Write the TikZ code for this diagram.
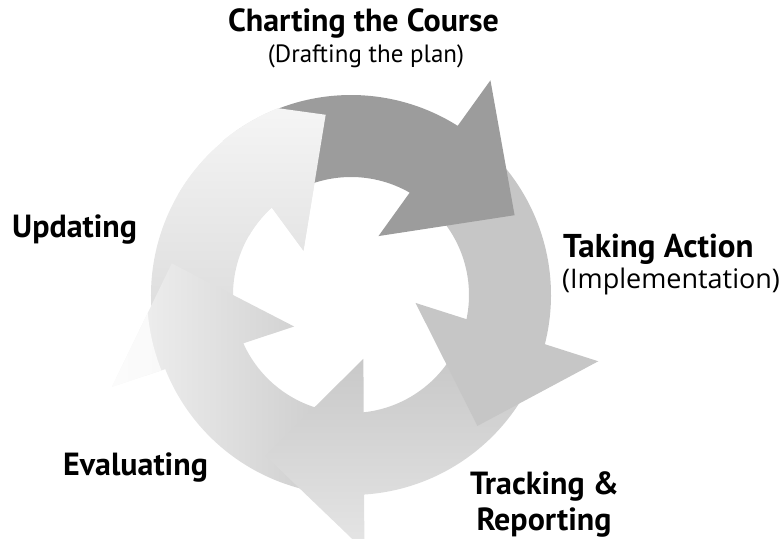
\documentclass[tikz,border=0pt]{standalone}
\usepackage{fontspec}
\newfontfamily\labfont{PT Sans}
\newfontfamily\impfont{Open Sans}
\definecolor{aone}{gray}{0.61}
\definecolor{atwo}{gray}{0.775}
\definecolor{athreeA}{gray}{0.77}
\definecolor{athreeB}{gray}{0.73}
\definecolor{athreeC}{gray}{0.90}
\definecolor{afourA}{gray}{0.79}
\definecolor{afourB}{gray}{0.95}
\definecolor{afiveA}{gray}{0.85}
\definecolor{afiveB}{gray}{0.965}
\begin{document}
\begin{tikzpicture}[x=1pt,y=1pt,
  headlbl/.style={inner sep=0pt, font=\labfont\bfseries\fontsize{32}{36}\selectfont},
  sublbl/.style={inner sep=0pt, font=\labfont\fontsize{25}{28}\selectfont},
  implbl/.style={inner sep=0pt, font=\impfont\fontsize{27}{31}\selectfont}]
\useasboundingbox (-351,-243) rectangle (432,295);
\clip (-351,-243) rectangle (432,295);
\def\arr#1{({#1+125}:200) arc[start angle={#1+125}, end angle={#1+57.76}, radius=200]
  -- ({#1+57}:256) -- ({#1+26}:182) -- ({#1+65}:65) -- ({#1+60.17}:118)
  arc[start angle={#1+60.17}, end angle={#1+125}, radius=118] -- cycle}
% arrow 5 (Updating): fades out beyond the ring
\begin{scope}
  \clip (0,0) circle[radius=200.5];
  \shade[top color=afiveB, bottom color=afiveA] \arr{-288};
\end{scope}
% arrow 4 (Evaluating)
\shade[left color=afourB, right color=afourA] \arr{-216};
\begin{scope}
  \clip (-400,-300) -- (-400,320) -- (500,320) -- (500,-300) -- cycle
        (204,0) arc[start angle=0, end angle=360, radius=204] -- cycle;
  \fill[white, opacity=0.75] \arr{-216};
\end{scope}
% arrow 3 (Tracking)
\shade[top color=athreeA, middle color=athreeB, bottom color=athreeC] \arr{-144};
% arrow 2 (Taking action)
\fill[atwo] \arr{-72};
% arrow 1 (Charting)
\fill[aone] \arr{0};
% head of arrow 5 over tail of arrow 1
\begin{scope}
  \clip (0,0) -- (85:400) -- (150:400) -- cycle;
  \clip (0,0) circle[radius=200.5];
  \shade[top color=afiveB, bottom color=afiveA] \arr{-288};
\end{scope}
% labels
\node[headlbl, anchor=base] (chart) at (12.5,263) {Charting the Course};
\node[sublbl, anchor=base] (draft) at (15,232) {(Drafting the plan)};
\node[headlbl, anchor=base west] (upd) at (-339,58) {Updating};
\node[headlbl, anchor=base west, font=\labfont\bfseries\fontsize{33}{36}\selectfont] (take) at (212,38) {Taking Action};
\node[implbl, anchor=base west] (impl) at (211,7) {(Implementation)};
\node[headlbl, anchor=base west] (eval) at (-288,-180) {Evaluating};
\node[headlbl, anchor=base] (track) at (193.5,-199) {Tracking \&};
\node[headlbl, anchor=base] (report) at (193,-235) {Reporting};
\end{tikzpicture}
\end{document}
